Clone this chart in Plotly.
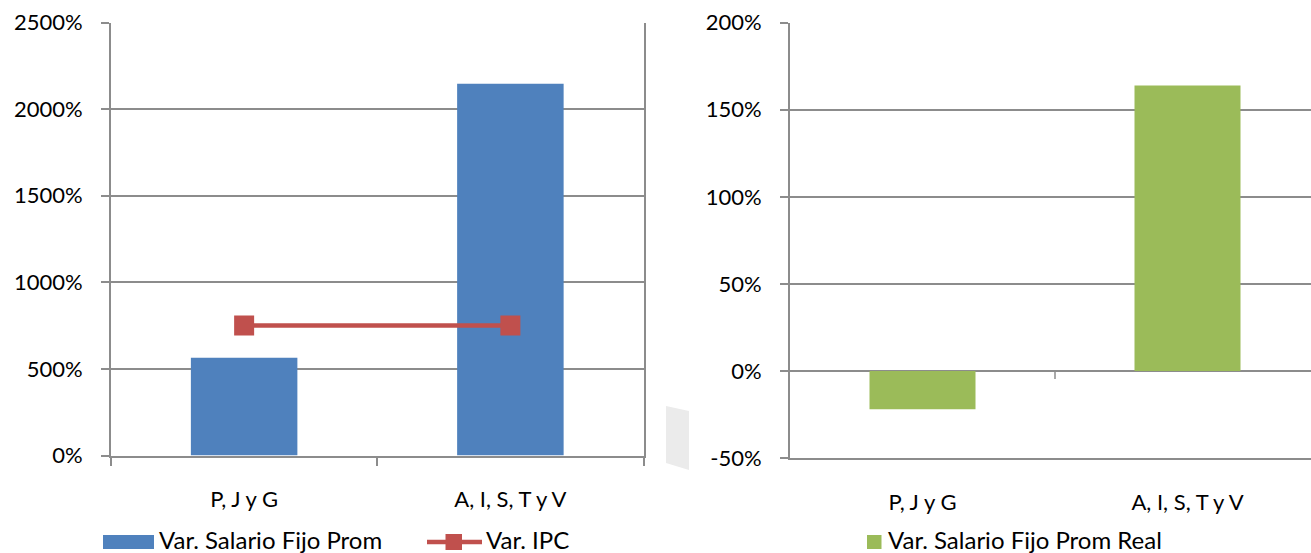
import plotly.graph_objects as go

# Category labels shared by both panels
categories = ["P, J y G", "A, I, S, T y V"]

# Left panel: nominal average fixed salary variation and CPI variation (%)
var_salario_fijo_prom = [565, 2147]
var_ipc = [751, 751]

# Right panel: real average fixed salary variation (%)
var_salario_fijo_prom_real = [-22, 164]

# Axis ticks
left_ticks = [0, 500, 1000, 1500, 2000, 2500]
right_ticks = [-50, 0, 50, 100, 150, 200]

W, H = 1311, 553
BLUE = "#4F81BD"
RED = "#C0504D"
GREEN = "#9BBB59"
GRID = "#8C8C8C"
FONT = dict(family="Lato", size=22, color="#000000")
LEGEND_FONT = dict(family="Lato", size=24, color="#000000")


def px_x(x):
    return x / W


def px_y(y):
    return (H - y) / H


fig = go.Figure()

fig.add_trace(go.Bar(
    x=categories, y=var_salario_fijo_prom, name="Var. Salario Fijo Prom",
    marker=dict(color=BLUE, line=dict(width=0)), width=0.4,
    xaxis="x", yaxis="y", showlegend=False,
))
fig.add_trace(go.Scatter(
    x=categories, y=var_ipc, name="Var. IPC", mode="lines+markers",
    line=dict(color=RED, width=4.5),
    marker=dict(symbol="square", size=20, color=RED),
    xaxis="x", yaxis="y", showlegend=False,
))
fig.add_trace(go.Bar(
    x=categories, y=var_salario_fijo_prom_real, name="Var. Salario Fijo Prom Real",
    marker=dict(color=GREEN, line=dict(width=0)), width=0.4,
    xaxis="x2", yaxis="y2", showlegend=False,
))

axis_common = dict(
    showline=True, linecolor=GRID, linewidth=2, automargin=False,
    tickfont=FONT, ticks="outside", tickcolor=GRID, tickwidth=1.5,
)

fig.update_layout(
    template="none",
    width=W, height=H,
    margin=dict(l=0, r=0, t=0, b=0, pad=0, autoexpand=False),
    paper_bgcolor="white", plot_bgcolor="white",
    font=FONT,
    showlegend=False,
    xaxis=dict(
        domain=[px_x(111), px_x(643.5)], anchor="y",
        type="category", range=[-0.5, 1.5],
        tickson="boundaries", ticklen=8,
        ticklabelstandoff=23,
        showgrid=False, zeroline=False,
        **axis_common,
    ),
    yaxis=dict(
        domain=[px_y(455.5), px_y(22.5)], anchor="x",
        range=[0, 2500], tickvals=left_ticks,
        ticktext=[f"{v}%" for v in left_ticks],
        ticklen=8, ticklabelstandoff=14,
        showgrid=True, gridcolor=GRID, gridwidth=1.5,
        zeroline=False, mirror=True,
        **axis_common,
    ),
    xaxis2=dict(
        domain=[px_x(790), 1.0], anchor="y2",
        type="category", range=[-0.5, -0.5 + (W - 790) / 265],
        ticks="", showline=True, linecolor=GRID, linewidth=2,
        automargin=False,
        tickfont=FONT, ticklabelstandoff=24,
        showgrid=False, zeroline=False,
    ),
    yaxis2=dict(
        domain=[px_y(458), px_y(22.7)], anchor="x2",
        range=[-50, 200], tickvals=right_ticks,
        ticktext=[f"{v}%" for v in right_ticks],
        ticklen=8, ticklabelstandoff=14,
        showgrid=True, gridcolor=GRID, gridwidth=1.5,
        zeroline=True, zerolinecolor=GRID, zerolinewidth=1.5,
        **axis_common,
    ),
)

shapes = []
# Category boundary tick on the zero line of the right panel
shapes.append(dict(
    type="line", xref="x2", yref="y2", x0=0.5, x1=0.5,
    ysizemode="pixel", yanchor=0, y0=0, y1=-8,
    line=dict(color=GRID, width=1.5),
))
# Faint grey sliver between the panels
pts = [(666, 406), (689, 411), (689, 470), (666, 463)]
path = "M " + " L ".join(f"{px_x(x)},{px_y(y)}" for x, y in pts) + " Z"
shapes.append(dict(type="path", xref="paper", yref="paper", path=path,
                   fillcolor="#EBEBEB", line=dict(width=0), layer="below"))

# Legend keys
LEG_Y = 542
shapes.append(dict(type="rect", xref="paper", yref="paper",
                   x0=px_x(103), x1=px_x(154), y0=px_y(549), y1=px_y(535),
                   fillcolor=BLUE, line=dict(width=0)))
shapes.append(dict(type="line", xref="paper", yref="paper",
                   x0=px_x(427), x1=px_x(482), y0=px_y(LEG_Y), y1=px_y(LEG_Y),
                   line=dict(color=RED, width=4.5)))
shapes.append(dict(type="rect", xref="paper", yref="paper",
                   x0=px_x(445.5), x1=px_x(462), y0=px_y(550), y1=px_y(534),
                   fillcolor=RED, line=dict(width=0)))
shapes.append(dict(type="rect", xref="paper", yref="paper",
                   x0=px_x(867), x1=px_x(881.5), y0=px_y(549), y1=px_y(535),
                   fillcolor=GREEN, line=dict(width=0)))
fig.update_layout(shapes=shapes)

legend_labels = [
    (157, "Var. Salario Fijo Prom"),
    (484, "Var. IPC"),
    (886, "Var. Salario Fijo Prom Real"),
]
for x, text in legend_labels:
    fig.add_annotation(
        xref="paper", yref="paper", x=px_x(x), y=px_y(LEG_Y - 3),
        xanchor="left", yanchor="middle", text=text, showarrow=False,
        font=LEGEND_FONT,
    )

fig.write_html("out.html")
